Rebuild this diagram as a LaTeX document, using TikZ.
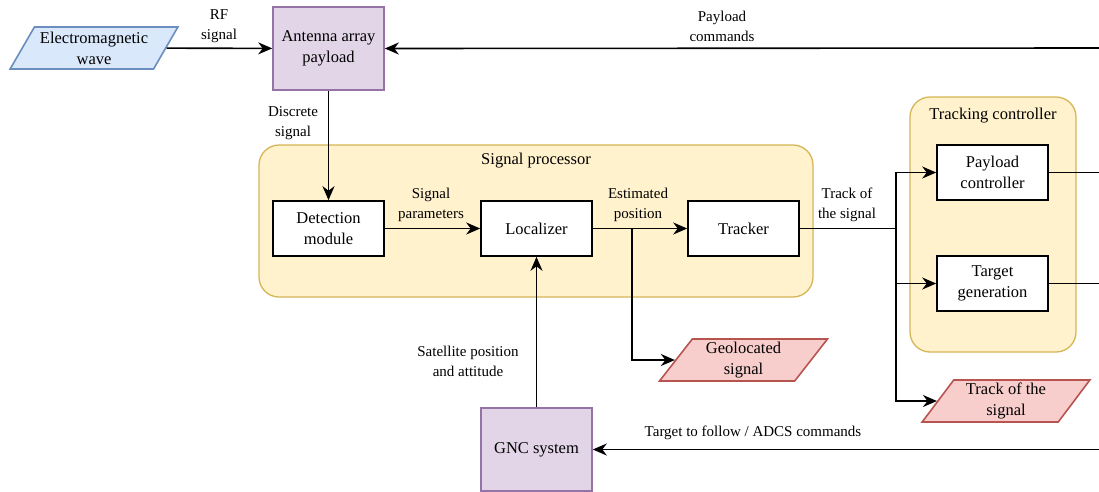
\documentclass[tikz,border=0pt]{standalone}
\usepackage{fontspec}
\setmainfont{Liberation Serif}
\usetikzlibrary{shapes.geometric,arrows.meta}

\definecolor{blueFill}{HTML}{DAE8FC}
\definecolor{blueLine}{HTML}{6C8EBF}
\definecolor{purpleFill}{HTML}{E1D5E7}
\definecolor{purpleLine}{HTML}{9673A6}
\definecolor{yellowFill}{HTML}{FFF2CC}
\definecolor{yellowLine}{HTML}{D6B656}
\definecolor{redFill}{HTML}{F8CECC}
\definecolor{redLine}{HTML}{B85450}

\begin{document}
\begin{tikzpicture}[x=1pt,y=-1pt,
  font=\fontsize{16.5}{21}\selectfont,
  block/.style={draw=black, line width=1.6pt, fill=white, minimum width=111pt,
    minimum height=55pt, inner sep=2pt, align=center},
  hw/.style={draw=purpleLine, line width=1.6pt, fill=purpleFill, minimum width=111pt,
    minimum height=83pt, inner sep=2pt, align=center},
  group/.style={draw=yellowLine, line width=1.3pt, fill=yellowFill, rounded corners=20pt},
  io/.style={trapezium, trapezium left angle=57, trapezium right angle=123,
    trapezium stretches=true, minimum width=168pt, minimum height=42pt,
    line width=1.6pt, align=center, inner sep=1pt},
  inio/.style={io, draw=blueLine, fill=blueFill},
  outio/.style={io, draw=redLine, fill=redFill},
  wire/.style={line width=1.6pt},
  conn/.style={wire, -{Stealth[length=14pt,width=12pt,inset=4.5pt]}},
  lbl/.style={font=\fontsize{15}{20}\selectfont, align=center, inner sep=0pt},
  title/.style={inner sep=0pt}]

\useasboundingbox (0,0) rectangle (1099,491);

% grouping frames
\node[group, minimum width=554pt, minimum height=152pt] (sp) at (536,221) {};
\node[title] (spt) at (536,161) {Signal processor};
\node[group, minimum width=166pt, minimum height=255pt] (tc) at (993,224.5) {};
\node[title] (tct) at (993,116) {Tracking controller};

% blocks
\node[inio] (em) at (94,48) {Electromagnetic\\wave};
\node[hw] (ant) at (328.5,48.5) {Antenna array\\payload};
\node[block] (det) at (328.5,228.5) {Detection\\module};
\node[block] (loc) at (536.5,228.5) {Localizer};
\node[block] (trk) at (743.5,228.5) {Tracker};
\node[block] (pc) at (992.5,172.5) {Payload\\controller};
\node[block] (tg) at (992.5,283.5) {Target\\generation};
\node[outio] (geo) at (743.5,360) {Geolocated\\signal};
\node[outio] (tos) at (1006,401) {Track of the\\signal};
\node[hw] (gnc) at (536.5,449.5) {GNC system};

% loose ends at the border
\coordinate (pcmd) at (1099,48);
\coordinate (pcout) at (1099,172.5);
\coordinate (tgout) at (1099,283.5);
\coordinate (gin) at (1099,449.5);
\coordinate (ep) at (632,228.5);
\coordinate (tj) at (896,228.5);

% connectors
\draw[conn] (em) -- (ant);
\draw[conn] (pcmd) -- (ant.east);
\draw[conn] (ant) -- (det);
\draw[conn] (det) -- (loc);
\draw[conn] (loc) -- (trk);
\draw[conn] (ep) |- (geo.west);
\draw[wire] (trk.east) -- (tj);
\draw[conn] (tj) |- (pc.west);
\draw[conn] (tj) |- (tg.west);
\draw[conn] (tj) |- (tos.west);
\draw[wire] (pc.east) -- (pcout);
\draw[wire] (tg.east) -- (tgout);
\draw[conn] (gnc) -- (loc);
\draw[conn] (gin) -- (gnc.east);

% connector labels
\node[lbl] (lrf) at (219,26) {RF\\signal};
\node[lbl] (lpc) at (722,26) {Payload\\commands};
\node[lbl] (lds) at (293,123) {Discrete\\signal};
\node[lbl] (lsp) at (431,205) {Signal\\parameters};
\node[lbl] (lep) at (638,205) {Estimated\\position};
\node[lbl] (lts) at (847,205) {Track of\\the signal};
\node[lbl] (lsa) at (468,361) {Satellite position\\and attitude};
\node[lbl] (ltf) at (753,433) {Target to follow / ADCS commands};
\end{tikzpicture}
\end{document}
